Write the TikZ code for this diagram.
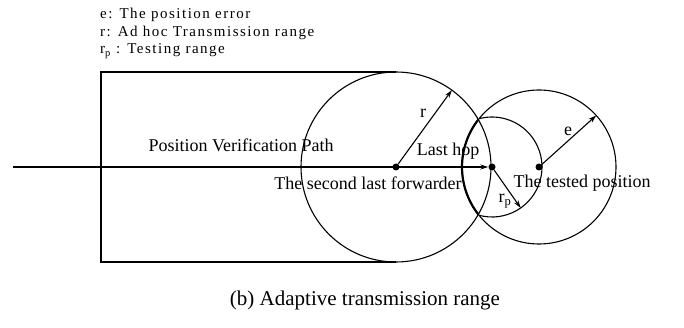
\documentclass[tikz,border=0pt]{standalone}
\usepackage{fontspec}
\setmainfont{Liberation Serif}
\newfontfamily\legendfont[LetterSpace=10]{Liberation Serif}
\usetikzlibrary{arrows.meta}

\begin{document}
\begin{tikzpicture}[
    x=1pt, y=-1pt,
    >={Stealth[length=8pt,width=5pt]},
    edge/.style={draw=black, line width=1.1pt},
    path/.style={draw=black, line width=1.8pt},
    lens/.style={draw=black, line width=2.2pt},
    dot/.style={circle, fill=black, minimum size=7pt, inner sep=0pt},
    lbl/.style={font=\fontsize{18}{20}\selectfont, inner sep=0pt},
    legend/.style={font=\legendfont\fontsize{15}{16}\selectfont, inner sep=0pt, anchor=base west},
  ]
  \useasboundingbox (0,0) rectangle (684,328);

  %% ---------------- legend ----------------
  \node[legend] (lgE) at (100,19) {e: The position error};
  \node[legend] (lgR) at (100,37) {r: Ad hoc Transmission range};
  \node[legend] (lgRp) at (100,54) {r\textsubscript{p} : Testing range};

  %% ---------------- nodes ----------------
  \node[dot] (fwd) at (396,167) {};
  \node[dot] (hop) at (492,167) {};
  \node[dot] (test) at (539,167) {};
  \coordinate (start) at (13,167);

  %% ---------------- ranges ----------------
  \draw[edge] (fwd) circle[radius=95];
  \draw[edge] (396,72) -| (101,262) -- (396,262);
  \draw[edge] (test) circle[radius=77];
  \draw[lens] (test) ++(142:77) arc[start angle=142, end angle=218, radius=77];
  \draw[edge] (hop) ++(105:50) arc[start angle=105, end angle=-105, radius=50];

  %% ---------------- verification path ----------------
  \draw[path, ->] (start) -- (hop);

  %% ---------------- radii (y grows downwards, so up is a negative angle) ----------------
  \path (fwd) ++(-54:95) coordinate (rTip);
  \path (test) ++(-42:77) coordinate (eTip);
  \path (hop) ++(55:50) coordinate (rpTip);
  \draw[edge, ->] (fwd) -- (rTip);
  \draw[edge, ->] (test) -- (eTip);
  \draw[edge, ->] (hop) -- (rpTip);

  %% ---------------- labels ----------------
  \node[lbl] (pathLbl) at (241,145) {Position Verification Path};
  \node[lbl] (fwdLbl) at (368,183) {The second last forwarder};
  \node[lbl] (testLbl) at (582,183) {The tested position};
  \node[lbl] (hopLbl) at (448,151) {Last hop};
  \node[lbl] (rLbl) at (423,113) {r};
  \node[lbl] (eLbl) at (568,131) {e};
  \node[lbl] (rpLbl) at (505,201) {r\textsubscript{p}};

  \node[font=\fontsize{21}{24}\selectfont, inner sep=0pt] (caption) at (365,300)
    {(b) Adaptive transmission range};

\end{tikzpicture}
\end{document}
